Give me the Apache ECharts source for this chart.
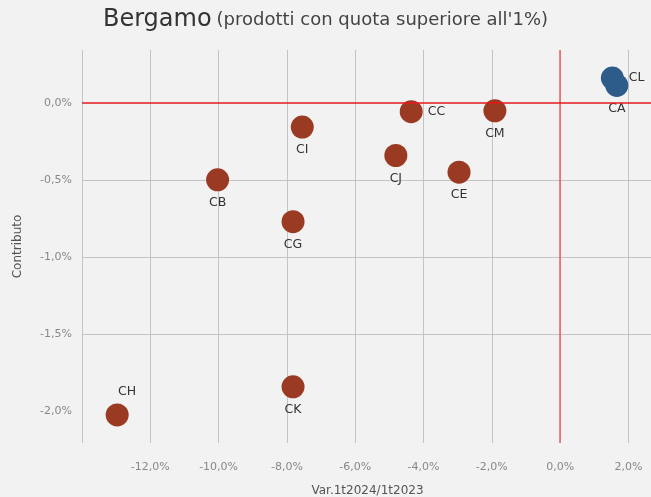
<!DOCTYPE html>
<html>
<head>
<meta charset="utf-8">
<script src="https://cdn.jsdelivr.net/npm/echarts@6/dist/echarts.min.js"></script>
<style>
  html, body { margin: 0; padding: 0; background: #f2f2f2; }
  #chart { width: 651px; height: 497px; }
</style>
</head>
<body>
<div id="chart"></div>
<script>
  // product codes, variation 1t2024/1t2023 (%) and contribution (%)
  const codes = ['CA', 'CL', 'CC', 'CM', 'CI', 'CJ', 'CE', 'CB', 'CG', 'CK', 'CH']
  const variazione = [1.66, 1.53, -4.36, -1.91, -7.55, -4.81, -2.96, -10.03, -7.82, -7.82, -12.97]
  const contributo = [0.114, 0.162, -0.056, -0.05, -0.156, -0.34, -0.448, -0.498, -0.769, -1.84, -2.022]
  const yTicks = [-2.0, -1.5, -1.0, -0.5, 0.0]

  const FONT = '"DejaVu Sans", sans-serif'

  // where each label sits around its point
  const labelSide = {CC: 'right', CL: 'right', CH: 'top'}

  function fmt(v, d) {
    return v.toFixed(d).replace('.', ',') + '%'
  }

  function points(positive) {
    const out = []
    codes.forEach((c, i) => {
      if ((variazione[i] >= 0) !== positive) return
      const side = labelSide[c] || 'bottom'
      out.push({
        name: c,
        value: [variazione[i], contributo[i]],
        label: {position: side, offset: c === 'CH' ? [10, 0] : [0, 0]}
      })
    })
    return out
  }

  const labelStyle = {
    show: true,
    formatter: '{b}',
    color: '#333',
    fontFamily: FONT,
    fontSize: 12.5,
    distance: 5
  }

  const chart = echarts.init(document.getElementById('chart'))
  chart.setOption({
    backgroundColor: '#f2f2f2',
    animation: false,
    title: {
      left: 'center',
      top: 3,
      text: '{a|Bergamo} {b|(prodotti con quota superiore all\'1%)}',
      textStyle: {
        rich: {
          a: {fontFamily: FONT, fontSize: 24, color: '#333', fontWeight: 'normal'},
          b: {fontFamily: FONT, fontSize: 18, color: '#444', fontWeight: 'normal'}
        }
      }
    },
    grid: {left: 82, top: 50, right: -2, bottom: 54, outerBoundsMode: 'none', containLabel: false},
    xAxis: {
      type: 'value',
      min: -14,
      max: 2.72,
      interval: 2,
      name: 'Var.1t2024/1t2023',
      nameLocation: 'middle',
      nameGap: 42,
      nameTextStyle: {color: '#555', fontFamily: FONT, fontSize: 12},
      axisLine: {show: false, onZero: false},
      axisTick: {show: false},
      axisLabel: {
        color: '#888', fontFamily: FONT, fontSize: 11, margin: 19,
        showMinLabel: false, showMaxLabel: false,
        formatter: v => fmt(v, 1)
      },
      splitLine: {show: true, showMaxLine: false, lineStyle: {color: '#c4c4c4', width: 1}}
    },
    yAxis: {
      type: 'value',
      min: -2.204,
      max: 0.344,
      name: 'Contributo',
      nameLocation: 'middle',
      nameGap: 58,
      nameTextStyle: {color: '#555', fontFamily: FONT, fontSize: 12},
      axisLine: {show: false, onZero: false},
      axisTick: {show: false, customValues: yTicks},
      axisLabel: {
        color: '#888', fontFamily: FONT, fontSize: 11, margin: 10,
        customValues: yTicks,
        formatter: v => fmt(v, 1)
      },
      splitLine: {show: true, showMinLine: false, showMaxLine: false, lineStyle: {color: '#c4c4c4', width: 1}}
    },
    series: [
      {
        type: 'scatter',
        data: [],
        z: 2,
        markLine: {
          silent: true,
          symbol: 'none',
          label: {show: false},
          lineStyle: {type: 'solid'},
          data: [
            {xAxis: 0, lineStyle: {color: '#f25c5c', width: 1.5, type: 'solid'}},
            {yAxis: 0, lineStyle: {color: '#e31a1c', width: 1.5, type: 'solid'}}
          ]
        }
      },
      {
        type: 'scatter',
        symbolSize: 23,
        z: 3,
        itemStyle: {color: '#9b3a22', opacity: 1},
        label: labelStyle,
        data: points(false)
      },
      {
        type: 'scatter',
        symbolSize: 23,
        z: 3,
        itemStyle: {color: '#2d5b8a', opacity: 1},
        label: labelStyle,
        data: points(true)
      }
    ]
  })
</script>
</body>
</html>
